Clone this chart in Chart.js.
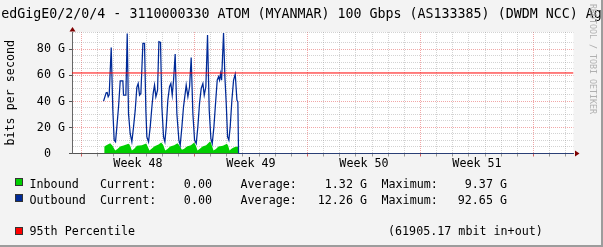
<!DOCTYPE html>
<html>
<head>
<meta charset="utf-8">
<script src="https://cdn.jsdelivr.net/npm/chart.js"></script>
<style>
body { margin: 0; background: #f3f3f3; }
#wrap { position: relative; width: 603px; height: 247px; overflow: hidden; background: #f3f3f3;
        font-family: "DejaVu Sans Mono", monospace; color: #000; }
#wrap canvas { position: absolute; left: 0; top: 0; }
#edge { position: absolute; left: 0; top: 0; width: 601px; height: 245px;
        border-right: 2px solid #9c9c9c; border-bottom: 2px solid #9c9c9c; }
#title { position: absolute; left: 0; top: 6.4px; width: 603px; text-align: center;
         font-size: 13.3px; line-height: 16px; white-space: pre; }
#mark { position: absolute; left: 588px; top: 4px; writing-mode: vertical-rl;
        font-size: 8.3px; line-height: 10px; color: #b0b0b0; white-space: pre; }
.t { position: absolute; font-size: 11.7px; line-height: 14px; white-space: pre; }
.r { text-align: right; width: 120px; }
.sq { position: absolute; width: 8px; height: 8px; box-sizing: border-box; border: 1px solid #333; }
</style>
</head>
<body>
<div id="wrap">
  <div id="edge"></div>
  <canvas id="graphCanvas" width="603" height="247"></canvas>
  <div id="title">edGigE0/2/0/4 - 3110000330 ATOM (MYANMAR) 100 Gbps (AS133385) (DWDM NCC) Ag</div>
  <div id="mark">RRDTOOL / TOBI OETIKER</div>
  <div id="legend"></div>
</div>
<script>
// hours since start of week 48, values in G
var outHours = [32.8,36.7,38.2,39.7,41.2,44.2,46.6,48.6,50.6,52.6,55.1,57.6,61.5,62.5,66.0,68.0,69.9,72.4,74.9,77.4,
    79.9,82.3,84.3,86.3,88.3,91.3,93.7,95.7,97.2,99.7,102.2,104.7,106.6,108.6,110.6,113.1,115.1,117.5,119.5,122.0,
    124.0,126.0,128.4,130.9,132.9,134.9,136.9,139.3,141.8,144.8,146.8,149.3,151.7,154.2,155.7,158.2,160.7,163.1,165.6,168.1,
    170.6,173.0,175.5,178.0,180.5,182.5,184.9,187.4,189.9,192.4,194.4,196.9,199.3,201.8,203.8,205.3,206.8,208.3,211.2,213.2,
    215.2,217.2,219.1,221.1,223.6,226.1,228.6,231.1,232.5,233.5,731.5];
var outValues = [40.3,46.7,46.9,43.6,45.1,81.5,33.3,10.3,9.0,20.5,35.9,55.9,55.9,44.9,44.9,92.3,30.8,15.4,9.0,20.5,
    33.3,50.8,53.8,44.9,46.2,84.6,84.6,33.3,12.8,9.0,20.5,35.9,46.2,52.6,43.6,48.7,85.9,85.4,35.9,12.8,
    9.0,20.5,41.0,51.3,53.8,44.9,56.4,76.4,30.8,10.3,6.4,20.5,35.9,46.2,52.6,43.6,51.3,73.8,30.8,10.3,
    7.7,20.5,38.5,50.0,53.8,44.9,51.3,91.0,33.3,11.5,7.7,20.5,38.5,56.4,59.0,56.4,61.5,56.4,92.65,59.0,
    38.5,12.8,10.3,20.5,41.0,56.4,61.0,41.0,39.7,0,0];

var inHours = [33.8,37.7,42.7,46.1,50.1,53.5,57.5,62.5,69.9,72.4,74.9,78.4,82.4,89.8,96.2,98.7,101.1,104.7,108.6,114.5,
    118.5,121.5,124.5,127.9,131.9,137.8,142.8,145.7,149.3,152.7,156.7,162.7,167.6,170.1,172.5,176.0,179.9,185.4,191.4,193.9,
    196.3,199.9,203.7,210.3,216.2,218.1,220.1,223.6,227.1,231.1,232.6,233.5,731.5];
var inValues = [5.4,6.5,7.9,6.0,2.3,3.5,5.4,6.2,7.5,6.0,2.3,3.6,5.9,6.4,7.7,5.0,2.3,3.8,5.6,6.9,
    8.5,6.5,2.3,3.5,5.4,6.4,7.9,6.0,2.8,3.7,5.4,6.4,8.5,6.0,2.3,3.6,5.4,6.4,9.37,6.0,
    2.3,3.5,5.4,5.9,7.4,6.0,2.3,3.8,4.9,5.4,5.0,0,0];

var percentileMbit = 61905.17;

var weekCenters = [84, 252, 420, 588];
var weekLabels = ['Week 48', 'Week 49', 'Week 50', 'Week 51'];

var seriesNames = ['Inbound', 'Outbound'];
var seriesColors = ['#00cf00', '#002a97'];
var currentVals = ['0.00', '0.00'];
var averageVals = ['1.32 G', '12.26 G'];
var maximumVals = ['9.37 G', '92.65 G'];

var xMin = -14.1, xMax = 731.5;
var yMax = 93.4;
var monoFont = { family: 'DejaVu Sans Mono', size: 11.7 };
var minorGrid = 'rgba(140,140,140,0.38)';
var majorGrid = 'rgba(225,60,60,0.45)';

function pts(xs, ys) {
    return xs.map(function (x, i) { return { x: x, y: ys[i] }; });
}

var frame = {
    id: 'frame',
    beforeDraw: function (chart) {
        var ctx = chart.ctx, a = chart.chartArea;
        ctx.save();
        ctx.fillStyle = '#ffffff';
        ctx.fillRect(a.left, a.top, a.right - a.left, a.bottom - a.top);
        ctx.restore();
    },
    afterDraw: function (chart) {
        var ctx = chart.ctx, a = chart.chartArea;
        ctx.save();
        ctx.fillStyle = '#7f0000';
        ctx.beginPath();
        ctx.moveTo(a.left + 0.5, a.top - 5);
        ctx.lineTo(a.left - 2.5, a.top - 0.5);
        ctx.lineTo(a.left + 3.5, a.top - 0.5);
        ctx.closePath();
        ctx.fill();
        ctx.beginPath();
        ctx.moveTo(a.right + 6, a.bottom);
        ctx.lineTo(a.right + 1.5, a.bottom - 3);
        ctx.lineTo(a.right + 1.5, a.bottom + 3);
        ctx.closePath();
        ctx.fill();
        ctx.restore();
    }
};

new Chart(document.getElementById('graphCanvas'), {
    type: 'line',
    data: {
        datasets: [
            {
                label: '95th Percentile',
                data: pts([xMin, xMax], [percentileMbit / 1000, percentileMbit / 1000]),
                borderColor: '#ff0000',
                borderWidth: 1,
                pointRadius: 0,
                order: 0
            },
            {
                label: seriesNames[1],
                data: pts(outHours, outValues),
                borderColor: seriesColors[1],
                borderWidth: 1.25,
                pointRadius: 0,
                tension: 0,
                order: 1
            },
            {
                label: seriesNames[0],
                data: pts(inHours, inValues),
                borderColor: seriesColors[0],
                backgroundColor: seriesColors[0],
                borderWidth: 0,
                fill: 'origin',
                pointRadius: 0,
                tension: 0,
                order: 2
            }
        ]
    },
    options: {
        responsive: false,
        animation: false,
        devicePixelRatio: 1,
        layout: { padding: { top: 32, right: 29.5, bottom: 73.5, left: 0 } },
        plugins: { legend: { display: false }, tooltip: { enabled: false } },
        scales: {
            x: {
                type: 'linear',
                min: xMin,
                max: xMax,
                afterFit: function (s) { s.height = 20; },
                afterBuildTicks: function (s) {
                    var t = [];
                    for (var h = 0; h <= 720; h += 24) t.push({ value: h });
                    weekCenters.forEach(function (c) { t.push({ value: c }); });
                    t.sort(function (a, b) { return a.value - b.value; });
                    s.ticks = t;
                },
                ticks: {
                    autoSkip: false,
                    maxRotation: 0,
                    padding: 0.5,
                    color: '#000',
                    font: monoFont,
                    callback: function (v) {
                        var i = weekCenters.indexOf(v);
                        return i >= 0 ? weekLabels[i] : '';
                    }
                },
                grid: {
                    tickLength: 3,
                    color: function (c) {
                        var v = c.tick.value;
                        if (weekCenters.indexOf(v) >= 0) return 'transparent';
                        return v % 168 === 0 ? majorGrid : minorGrid;
                    },
                    tickColor: function (c) {
                        var v = c.tick.value;
                        if (weekCenters.indexOf(v) >= 0) return 'transparent';
                        return v % 168 === 0 ? '#d06060' : '#999';
                    }
                },
                border: { color: '#555', dash: [1, 1] }
            },
            y: {
                min: 0,
                max: yMax,
                afterFit: function (s) { s.width = 72; },
                ticks: {
                    stepSize: 5,
                    autoSkip: false,
                    padding: 4,
                    color: '#000',
                    font: monoFont,
                    callback: function (v) {
                        if (v % 20 !== 0) return '';
                        return v === 0 ? '0  ' : v + ' G';
                    }
                },
                grid: {
                    tickLength: 3,
                    color: function (c) {
                        var v = c.tick.value;
                        return (v % 20 === 0) ? majorGrid : minorGrid;
                    },
                    tickColor: function (c) {
                        return (c.tick.value % 20 === 0) ? '#555' : 'transparent';
                    }
                },
                border: { color: '#666', dash: [1, 1] },
                title: {
                    display: true,
                    text: 'bits per second',
                    color: '#000',
                    font: monoFont,
                    padding: { top: 3.5, bottom: 0 }
                }
            }
        }
    },
    plugins: [frame]
});

// rrdtool style legend
var legend = document.getElementById('legend');
function addText(txt, left, top, right) {
    var d = document.createElement('div');
    d.className = right ? 't r' : 't';
    d.textContent = txt;
    d.style.top = top + 'px';
    d.style.left = (right ? left - 120 : left) + 'px';
    legend.appendChild(d);
}
function addSquare(color, top) {
    var d = document.createElement('div');
    d.className = 'sq';
    d.style.background = color;
    d.style.left = '15px';
    d.style.top = top + 'px';
    legend.appendChild(d);
}
var rowTops = [176.6, 192.6];
var sqTops = [178, 194];
for (var i = 0; i < seriesNames.length; i++) {
    addSquare(seriesColors[i], sqTops[i]);
    addText(seriesNames[i], 29.5, rowTops[i]);
    addText('Current:', 100, rowTops[i]);
    addText(currentVals[i], 212, rowTops[i], true);
    addText('Average:', 240.5, rowTops[i]);
    addText(averageVals[i], 367, rowTops[i], true);
    addText('Maximum:', 381.5, rowTops[i]);
    addText(maximumVals[i], 507, rowTops[i], true);
}
addSquare('#ff0000', 227);
addText('95th Percentile', 29.5, 224);
addText('(' + percentileMbit.toFixed(2) + ' mbit in+out)', 508, 224, true);
</script>
</body>
</html>
